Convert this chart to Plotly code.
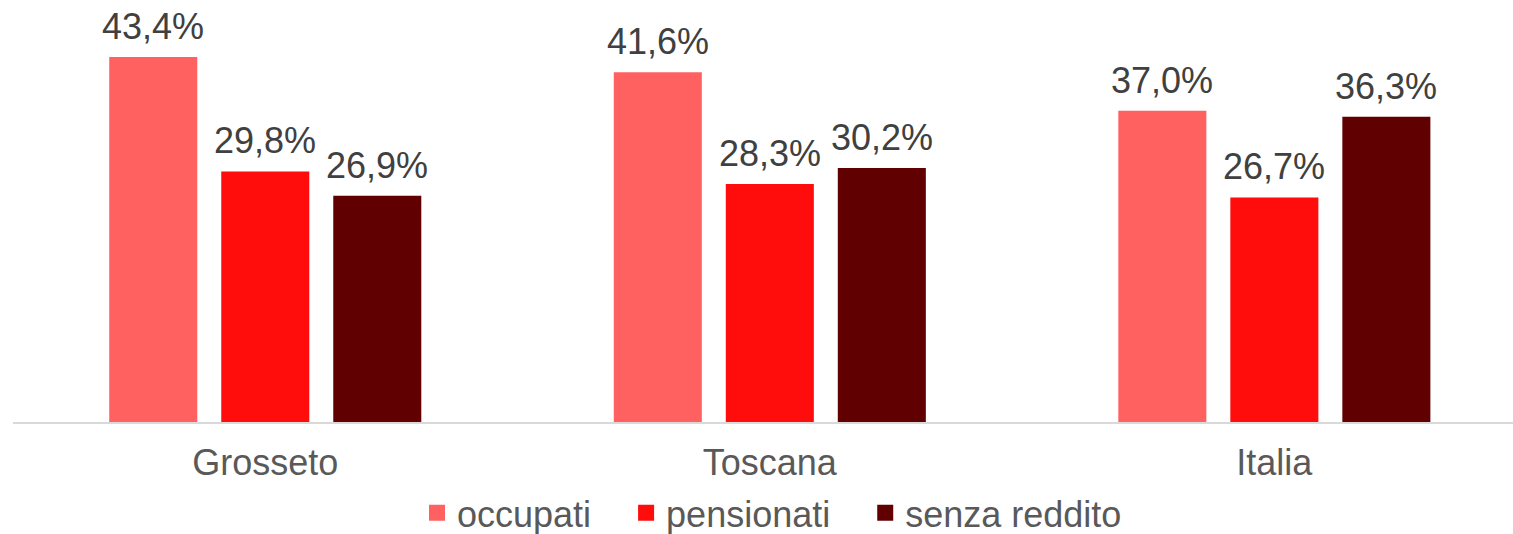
import plotly.graph_objects as go

categories = ["Grosseto", "Toscana", "Italia"]
series_names = ["occupati", "pensionati", "senza reddito"]
occupati = [43.4, 41.6, 37.0]
pensionati = [29.8, 28.3, 26.7]
senza_reddito = [26.9, 30.2, 36.3]
colors = ["#FF6161", "#FF0D0D", "#600000"]

W, H = 1513, 534
ML, MR, MT, MB = 13, 0, 20, 112
XR = [-0.5, 2.473]
BARGAP = 0.334
FONT = "Liberation Sans, Arial, sans-serif"
TXT = "#595959"
FS = 36

px_per_unit = (W - ML - MR) / (XR[1] - XR[0])
slot = (1 - BARGAP) / 3 * px_per_unit

fig = go.Figure()
all_series = [occupati, pensionati, senza_reddito]
for i, (name, vals, col) in enumerate(zip(series_names, all_series, colors)):
    fig.add_trace(go.Bar(
        x=categories, y=vals, name=name, showlegend=False,
        marker=dict(color=col, line=dict(width=0)),
    ))
    # legend proxy (padded with non-breaking spaces for entry spacing)
    pad = "\u00a0" * 3 if i < len(series_names) - 1 else ""
    fig.add_trace(go.Scatter(
        x=[None], y=[None], mode="markers", name=name + pad,
        marker=dict(symbol="square", size=17, color=col),
    ))
    for c, v in zip(categories, vals):
        fig.add_annotation(
            x=c, y=v, xref="x", yref="y", text=f"{v:.1f}%".replace(".", ","),
            showarrow=False, xanchor="center", yanchor="bottom",
            xshift=(i - 1) * slot, yshift=8,
            font=dict(family=FONT, size=FS, color="#404040"),
        )

fig.update_layout(
    width=W, height=H,
    margin=dict(l=ML, r=MR, t=MT, b=MB, autoexpand=False),
    barmode="group", bargap=BARGAP, bargroupgap=0.214,
    plot_bgcolor="white", paper_bgcolor="white",
    font=dict(family=FONT, color=TXT),
    showlegend=True,
    legend=dict(orientation="h", x=0.506, xanchor="center", y=-0.226, yanchor="middle",
                font=dict(size=FS, color=TXT), itemsizing="trace", itemwidth=30,
                traceorder="normal", tracegroupgap=0),
)
fig.update_xaxes(range=XR, showline=True, linecolor="#D9D9D9", linewidth=2,
                 ticks="", tickfont=dict(size=FS, color=TXT), ticklabelstandoff=8,
                 showgrid=False)
fig.update_yaxes(range=[0, 47.8], visible=False, showgrid=False)

fig.write_html(
    "out.html",
    config={"displayModeBar": False},
    post_script=(
        "document.body.style.margin='0';"
        "document.body.style.overflow='hidden';"
        "document.documentElement.style.overflow='hidden';"
    ),
)
